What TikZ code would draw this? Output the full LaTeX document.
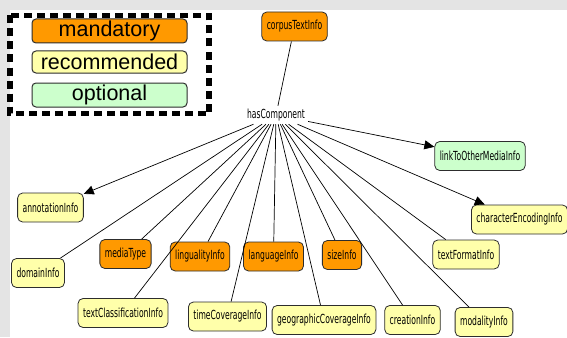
\documentclass[tikz,border=0pt]{standalone}
\usepackage{fontspec}
\usetikzlibrary{arrows.meta, positioning}
\newfontfamily\nodefont[FakeStretch=0.61]{DejaVu Sans}
\newfontfamily\legendfont{Liberation Sans}
\definecolor{mandcol}{RGB}{255,153,0}
\definecolor{recocol}{RGB}{255,255,170}
\definecolor{optcol}{RGB}{204,255,204}
\definecolor{panelgray}{RGB}{228,228,228}
\definecolor{rimcol}{RGB}{45,45,45}

\begin{document}
\begin{tikzpicture}[x=1pt, y=-1pt,
    infobox/.style={rectangle, draw=rimcol, line width=0.8pt, rounded corners=5pt, minimum height=29pt, inner xsep=5pt, font=\nodefont\fontsize{12.5}{14}\selectfont},
    mand/.style={infobox, fill=mandcol},
    reco/.style={infobox, fill=recocol},
    opt/.style={infobox, fill=optcol},
    legbox/.style={rectangle, draw=rimcol, line width=1pt, rounded corners=4pt, minimum width=155pt, inner sep=0pt, font=\legendfont\fontsize{21.5}{23}\selectfont},
    plainedge/.style={line width=0.7pt},
    arrowedge/.style={plainedge, -{Triangle[length=10pt,width=9pt]}}]
        % Panel
        \fill[panelgray] (0,0) rectangle (567,337);
        \fill[white] (10,10) rectangle (567,337);
        \useasboundingbox (0,0) rectangle (567,337);

        % Legend
        \draw[line width=5.5pt, dash pattern=on 8pt off 5pt] (10,15.5) rectangle (209,113.5);
        \node (mandatory) [legbox, fill=mandcol, minimum height=24pt] at (109.5,31) {mandatory};
        \node (recommended) [legbox, fill=recocol, minimum height=22pt, below=7pt of mandatory] {recommended};
        \node (optional) [legbox, fill=optcol, minimum height=24pt, below=9pt of recommended] {optional};

        % Nodes
        \node (corpus) [mand] at (294.5,26.5) {corpusTextInfo};
        \node (hub) [font=\nodefont\fontsize{12.5}{14}\selectfont, inner sep=3pt] at (276,115) {hasComponent};
        \node (linkmedia) [opt] at (480,156) {linkToOtherMediaInfo};
        \node (annotation) [reco] at (50.5,207.5) {annotationInfo};
        \node (charenc) [reco] at (519.5,219.5) {characterEncodingInfo};
        \node (domain) [reco] at (38,273) {domainInfo};
        \node (mediatype) [mand] at (125.5,254) {mediaType};
        \node (linguality) [mand] at (200,256.5) {lingualityInfo};
        \node (language) [mand] at (273.5,256.5) {languageInfo};
        \node (size) [mand] at (342,255) {sizeInfo};
        \node (textformat) [reco] at (466,254.5) {textFormatInfo};
        \node (textclass) [reco] at (123,313) {textClassificationInfo};
        \node (timecov) [reco] at (227.5,316.5) {timeCoverageInfo};
        \node (geocov) [reco] at (324,320) {geographicCoverageInfo};
        \node (creation) [reco] at (412.5,320) {creationInfo};
        \node (modality) [reco] at (484,322) {modalityInfo};

        % Edges
        \draw[plainedge] (corpus) -- (hub);
        \draw[arrowedge] (hub) -- (linkmedia);
        \draw[arrowedge] (hub) -- (annotation);
        \draw[arrowedge] (hub) -- (charenc);
        \draw[plainedge] (hub) -- (domain);
        \draw[plainedge] (hub) -- (mediatype);
        \draw[plainedge] (hub) -- (linguality);
        \draw[plainedge] (hub) -- (language);
        \draw[plainedge] (hub) -- (size);
        \draw[plainedge] (hub) -- (textformat);
        \draw[plainedge] (hub) -- (textclass);
        \draw[plainedge] (hub) -- (timecov);
        \draw[plainedge] (hub) -- (geocov);
        \draw[plainedge] (hub) -- (creation);
        \draw[plainedge] (hub) -- (modality);
\end{tikzpicture}
\end{document}
